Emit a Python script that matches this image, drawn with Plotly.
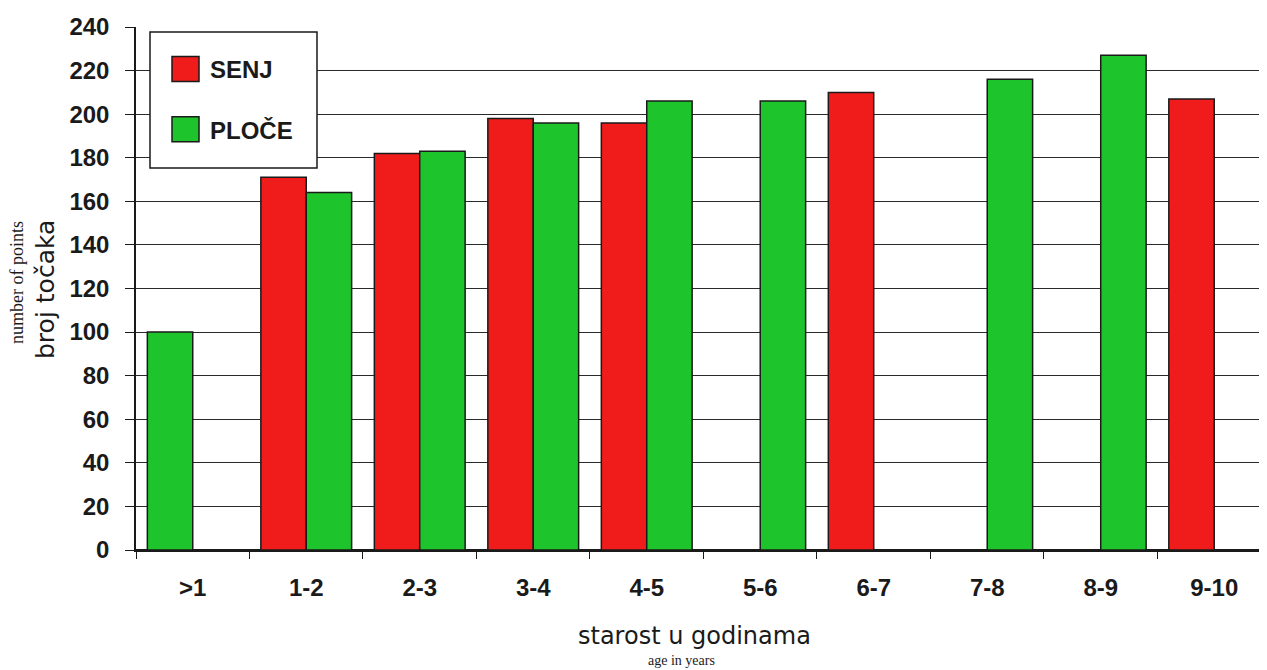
import plotly.graph_objects as go

categories = [">1", "1-2", "2-3", "3-4", "4-5", "5-6", "6-7", "7-8", "8-9", "9-10"]
senj = [None, 171, 182, 198, 196, None, 210, None, None, 207]
ploce = [100, 164, 183, 196, 206, 206, None, 216, 227, None]
y_ticks = list(range(0, 241, 20))

RED = "#f01c1c"
GREEN = "#1ec42c"
EDGE = "#1a1a1a"

fig = go.Figure()
fig.add_trace(go.Bar(
    name="SENJ", x=categories, y=senj, offsetgroup="a", legendgroup="senj",
    marker=dict(color=RED, line=dict(color=EDGE, width=1.5)),
))
fig.add_trace(go.Bar(
    name="PLOČE", x=categories[1:], y=ploce[1:], offsetgroup="b", legendgroup="ploce",
    marker=dict(color=GREEN, line=dict(color=EDGE, width=1.5)),
))
# the ">1" PLOČE bar occupies the first slot in the original figure
fig.add_trace(go.Bar(
    name="PLOČE", x=categories[:1], y=ploce[:1], offsetgroup="a", legendgroup="ploce",
    showlegend=False,
    marker=dict(color=GREEN, line=dict(color=EDGE, width=1.5)),
))

# page body has an 8px margin: the figure starts at (8, 8) in the screenshot
OFF = 8
W, H = 1267 - OFF, 670 - OFF
ML, MR, MT = 136 - OFF, 0, 27 - OFF
PH = 523
MB = H - MT - PH
pw = W - ML - MR

def px(xs):
    return (xs - OFF - ML) / pw

def py(ys):
    return (550 - ys) / PH

TITLE_FONT = "DejaVu Sans, Liberation Sans, Arial, sans-serif"
SERIF = "Liberation Serif, Times New Roman, serif"

fig.update_layout(
    width=W, height=H,
    margin=dict(l=ML, r=MR, t=MT, b=MB),
    paper_bgcolor="white", plot_bgcolor="white",
    barmode="group", bargap=0.2, bargroupgap=0.0,
    font=dict(family="Liberation Sans, Arial, sans-serif", color="#1a1a1a"),
    showlegend=True,
    legend=dict(
        x=px(150), y=py(47), xanchor="left", yanchor="top",
        bgcolor="rgba(0,0,0,0)", borderwidth=0,
        font=dict(size=24, family="Liberation Sans, Arial, sans-serif", weight="bold"),
        tracegroupgap=26, traceorder="grouped",
        itemwidth=50,
    ),
    shapes=[
        # legend frame
        dict(type="rect", xref="paper", yref="paper", layer="above",
             x0=px(150), x1=px(317), y0=py(168), y1=py(32),
             fillcolor="white", line=dict(color="#1a1a1a", width=1.5)),
    ],
    xaxis=dict(
        type="category", categoryorder="array", categoryarray=categories,
        range=[-0.5, 9.465],
        showgrid=False, showline=True, linecolor="#1a1a1a", linewidth=1.5,
        ticks="outside", tickson="boundaries", ticklen=7, tickwidth=1.2, tickcolor="#1a1a1a",
        tickfont=dict(size=24, weight="bold"), ticklabelstandoff=15,
        zeroline=False,
    ),
    yaxis=dict(
        range=[0, 240], tickvals=y_ticks,
        showgrid=True, gridcolor="#2a2a2a", gridwidth=1.3,
        showline=True, linecolor="#1a1a1a", linewidth=1.5,
        ticks="outside", ticklen=9, tickwidth=1.2, tickcolor="#1a1a1a",
        tickfont=dict(size=24, weight="bold"), ticklabelstandoff=11,
        zeroline=True, zerolinecolor="#1a1a1a", zerolinewidth=1.5,
    ),
    annotations=[
        dict(text="starost u godinama", xref="paper", yref="paper",
             x=px(694), y=py(636), xanchor="center", yanchor="middle", showarrow=False,
             font=dict(size=24, family=TITLE_FONT, color="#1a1a1a")),
        dict(text="age in years", xref="paper", yref="paper",
             x=px(681), y=py(660), xanchor="center", yanchor="middle", showarrow=False,
             font=dict(size=14, family=SERIF, color="#1a1a1a")),
        dict(text="broj točaka", xref="paper", yref="paper", textangle=-90,
             x=px(45), y=py(290), xanchor="center", yanchor="middle", showarrow=False,
             font=dict(size=25, family=TITLE_FONT, color="#1a1a1a")),
        dict(text="number of points", xref="paper", yref="paper", textangle=-90,
             x=px(17), y=py(283), xanchor="center", yanchor="middle", showarrow=False,
             font=dict(size=18, family=SERIF, color="#1a1a1a")),
    ],
)

post = """
var gd = document.getElementById('{plot_id}');
function bigKeys(){
  document.querySelectorAll('g.legendpoints path').forEach(function(p){
    p.setAttribute('d', 'M19,12.5H-8V-12.5H19Z');
  });
}
bigKeys();
setTimeout(bigKeys, 0);
setTimeout(bigKeys, 100);
setTimeout(bigKeys, 500);
if (gd && gd.on) { gd.on('plotly_afterplot', bigKeys); }
"""

fig.write_html("out.html", post_script=post)
